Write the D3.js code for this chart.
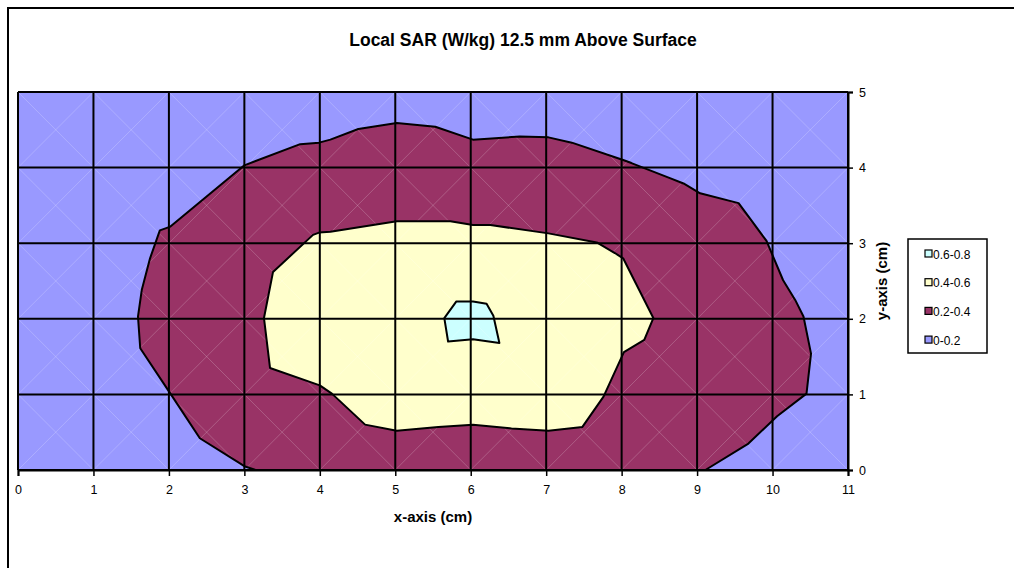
<!DOCTYPE html>
<html>
<head>
<meta charset="utf-8">
<script src="https://cdn.jsdelivr.net/npm/d3@7/dist/d3.min.js"></script>
<style>
html,body{margin:0;padding:0;background:#fff;}
svg{display:block;font-family:"Liberation Sans",Arial,sans-serif;}
</style>
</head>
<body>
<svg id="chart" width="1014" height="568"></svg>
<script>
// ---- data ----
const title = "Local SAR (W/kg) 12.5 mm Above Surface";
const xTicks = [0,1,2,3,4,5,6,7,8,9,10,11];
const yTicks = [0,1,2,3,4,5];
const bandLabels = ["0.6-0.8","0.4-0.6","0.2-0.4","0-0.2"];
const bandColors = ["#CCFFFF","#FFFFCC","#993366","#9999FF"];

// contour boundaries (x cm, y cm)
const contour02 = [
  [3.15,0],[3.0,0.05],[2.41,0.42],[2.02,1.01],[1.62,1.61],[1.59,2.03],[1.64,2.38],
  [1.75,2.80],[1.88,3.17],[2.02,3.22],[3.0,4.03],[3.74,4.31],[3.99,4.33],[4.14,4.37],
  [4.51,4.51],[5.02,4.59],[5.53,4.54],[6.03,4.37],[6.65,4.41],[7.03,4.40],[7.34,4.33],
  [8.02,4.10],[8.13,4.06],[8.64,3.86],[8.82,3.79],[9.04,3.66],[9.55,3.53],[9.92,3.03],
  [10.14,2.51],[10.30,2.25],[10.41,2.03],[10.51,1.54],[10.45,1.01],[10.06,0.71],
  [9.68,0.35],[9.11,0]
];
const contour04 = [
  [3.38,2.62],[3.91,3.11],[3.99,3.14],[4.14,3.15],[5.02,3.29],[5.73,3.29],[6.03,3.24],
  [6.26,3.24],[7.03,3.13],[7.67,3.01],[7.91,2.87],[8.02,2.80],[8.42,2.01],[8.30,1.72],
  [8.03,1.56],[7.76,0.97],[7.48,0.57],[7.03,0.52],[6.54,0.55],[6.03,0.60],[5.57,0.57],
  [5.02,0.52],[4.60,0.60],[4.16,1.01],[4.0,1.12],[3.34,1.35],[3.26,2.01]
];
const contour06 = [
  [5.81,2.23],[6.03,2.23],[6.21,2.20],[6.30,2.04],[6.38,1.68],[6.03,1.73],[5.70,1.70],[5.65,2.01]
];

// ---- layout ----
const svg = d3.select("#chart");
const x = d3.scaleLinear().domain([0,11]).range([18,848]);
const y = d3.scaleLinear().domain([0,5]).range([470,92]);

// outer frame
svg.append("path").attr("d","M8,568 L8,8 L1014,8").attr("fill","none").attr("stroke","#000").attr("stroke-width",2);

// background band
svg.append("rect").attr("x",x(0)).attr("y",y(5)).attr("width",x(11)-x(0)).attr("height",y(0)-y(5))
  .attr("fill",bandColors[3]);

const line = d3.line().x(d=>x(d[0])).y(d=>y(d[1]));
const polys = [[contour02,bandColors[2]],[contour04,bandColors[1]],[contour06,bandColors[0]]];
polys.forEach(([p,c])=>{
  svg.append("path").attr("d",line(p)+"Z").attr("fill",c).attr("stroke","none");
});

// faint triangulation diagonals
const diag = svg.append("g").attr("stroke","#fff").attr("stroke-opacity",0.2).attr("stroke-width",1);
for(let i=0;i<11;i++){for(let j=0;j<5;j++){
  diag.append("line").attr("x1",x(i)).attr("y1",y(j)).attr("x2",x(i+1)).attr("y2",y(j+1));
  diag.append("line").attr("x1",x(i)).attr("y1",y(j+1)).attr("x2",x(i+1)).attr("y2",y(j));
}}

// contour outlines
[contour02].forEach(p=>{
  svg.append("path").attr("d",line(p)).attr("fill","none").attr("stroke","#000").attr("stroke-width",2).attr("stroke-linejoin","round");
});
[contour04,contour06].forEach(p=>{
  svg.append("path").attr("d",line(p)+"Z").attr("fill","none").attr("stroke","#000").attr("stroke-width",2).attr("stroke-linejoin","round");
});

// gridlines
const grid = svg.append("g").attr("stroke","#000").attr("stroke-width",2);
xTicks.forEach(t=>grid.append("line").attr("x1",x(t)).attr("x2",x(t)).attr("y1",y(5)).attr("y2",y(0)));
yTicks.forEach(t=>grid.append("line").attr("x1",x(0)).attr("x2",x(11)).attr("y1",y(t)).attr("y2",y(t)));

// axes
const xAxis = d3.axisBottom(x).tickValues(xTicks).tickSize(6).tickPadding(9).tickFormat(d3.format("d"));
const gx = svg.append("g").attr("transform",`translate(0,${y(0)})`).call(xAxis);
const yAxis = d3.axisRight(y).tickValues(yTicks).tickSize(5).tickPadding(6).tickFormat(d3.format("d"));
const gy = svg.append("g").attr("transform",`translate(${x(11)},0)`).call(yAxis);
[gx,gy].forEach(g=>{
  g.select(".domain").attr("stroke","#000").attr("stroke-width",2);
  g.selectAll(".tick line").attr("stroke","#000").attr("stroke-width",1.5);
  g.selectAll(".tick text").attr("fill","#000").attr("font-size",12.5).attr("font-family","Liberation Sans, Arial, sans-serif");
});

// titles
svg.append("text").attr("x",523).attr("y",46).attr("text-anchor","middle")
  .attr("font-size",17.5).attr("font-weight","bold").text(title);
svg.append("text").attr("x",x(5.5)).attr("y",522).attr("text-anchor","middle")
  .attr("font-size",15).attr("font-weight","bold").text("x-axis (cm)");
svg.append("text").attr("transform",`translate(887,${y(2.5)}) rotate(-90)`).attr("text-anchor","middle")
  .attr("font-size",15).attr("font-weight","bold").text("y-axis (cm)");

// legend
const lg = svg.append("g");
lg.append("rect").attr("x",908).attr("y",239).attr("width",79).attr("height",114)
  .attr("fill","#fff").attr("stroke","#000").attr("stroke-width",1.5);
bandLabels.forEach((lab,i)=>{
  const yy = 254 + i*28.7;
  lg.append("rect").attr("x",925).attr("y",yy-4).attr("width",7).attr("height",7)
    .attr("fill",bandColors[i]).attr("stroke","#000").attr("stroke-width",1.2);
  lg.append("text").attr("x",933).attr("y",yy+4.5).attr("font-size",12).text(lab);
});
</script>
</body>
</html>
